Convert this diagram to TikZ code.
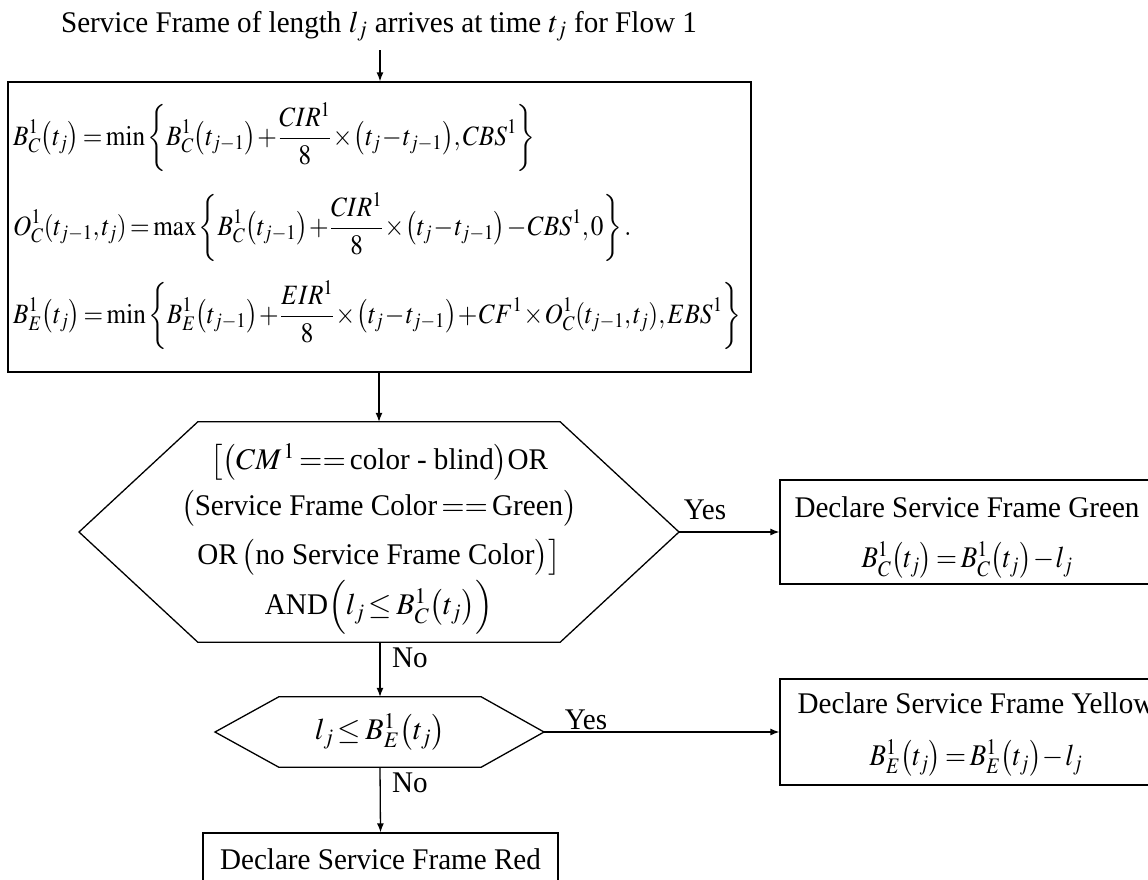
\documentclass[tikz,border=0pt]{standalone}
\usepackage{amsmath}
\usepackage{graphicx}
\usepackage{mathptmx}
\usepackage{fontspec}
\setmainfont{Liberation Serif}[FakeStretch=0.97]
\usetikzlibrary{arrows.meta}
\thickmuskip=2.5mu
\medmuskip=1mu
\thinmuskip=1.5mu
\newcommand{\narrowmath}[1]{\scalebox{0.9}[1]{#1}}
\tikzset{
  every node/.style={font=\fontsize{30}{36}\selectfont, inner sep=0pt},
  mathrow/.style={anchor=west, font=\fontsize{28}{33}\selectfont},
  box/.style={draw, line width=1.3pt},
  conn/.style={-{Latex[length=9pt,width=7pt]}, line width=1.3pt}
}
\begin{document}
\begin{tikzpicture}[x=1pt,y=-1pt]
\useasboundingbox (0,0) rectangle (1148,879);
\fill[white] (0,0) rectangle (1148,879);

% title
\node[anchor=base] (title) at (379,32) {Service Frame of length $l_j$ arrives at time $t_j$ for Flow 1};
\coordinate (a0) at (380,50);

% equation box
\node[box, minimum width=743pt, minimum height=290pt] (eqbox) at (379.5,227) {};
\node[mathrow] (r1) at (13,137) {\narrowmath{$\displaystyle B_C^1\bigl(t_j\bigr)=\min\left\{B_C^1\bigl(t_{j-1}\bigr)+\frac{CIR^1}{8}\times\bigl(t_j-t_{j-1}\bigr),CBS^1\right\}$}};
\node[mathrow] (r2) at (13,227) {\narrowmath{$\displaystyle O_C^1(t_{j-1},t_j)=\max\left\{B_C^1\bigl(t_{j-1}\bigr)+\frac{CIR^1}{8}\times\bigl(t_j-t_{j-1}\bigr)-CBS^1,0\right\}.$}};
\node[mathrow] (r3) at (13,315) {\narrowmath{$\displaystyle B_E^1\bigl(t_j\bigr)=\min\left\{B_E^1\bigl(t_{j-1}\bigr)+\frac{EIR^1}{8}\times\bigl(t_j-t_{j-1}\bigr)+CF^1\times O_C^1(t_{j-1},t_j),EBS^1\right\}$}};

% first decision
\node[minimum width=362pt, minimum height=220pt] (h1) at (379,532) {};
\coordinate (h1l) at (79,532);
\coordinate (h1r) at (679,532);
\draw[box] (h1.north west) -- (h1.north east) -- (h1r) -- (h1.south east) -- (h1.south west) -- (h1l) -- cycle;
\node (h1a) at (379,462) {$\bigl[\bigl(CM^{\,1}==\text{color - blind}\bigr)\text{OR}$};
\node (h1b) at (379,508) {$\bigl(\text{Service Frame Color}==\text{Green}\bigr)$};
\node (h1c) at (379,557) {$\text{OR}\;\bigl(\text{no Service Frame Color}\bigr)\bigr]$};
\node (h1d) at (379,607) {$\text{AND}\Bigl(l_j\le B_C^1\bigl(t_j\bigr)\Bigr)$};

% green box
\node[box, minimum width=374pt, minimum height=104pt] (green) at (967,532) {};
\node (g1) at (967,507) {Declare Service Frame Green};
\node (g2) at (967,560) {\narrowmath{$B_C^1\bigl(t_j\bigr)=B_C^1\bigl(t_j\bigr)-l_j$}};

% second decision
\node[minimum width=202pt, minimum height=70pt] (h2) at (380,732) {};
\coordinate (h2l) at (215,732);
\coordinate (h2r) at (544,732);
\draw[box] (h2.north west) -- (h2.north east) -- (h2r) -- (h2.south east) -- (h2.south west) -- (h2l) -- cycle;
\node (h2t) at (380,732) {$l_j\le B_E^1\bigl(t_j\bigr)$};

% yellow box
\node[box, minimum width=392pt, minimum height=106pt] (yellow) at (976,732) {};
\node (y1) at (976,703) {Declare Service Frame Yellow};
\node (y2) at (976,758) {\narrowmath{$B_E^1\bigl(t_j\bigr)=B_E^1\bigl(t_j\bigr)-l_j$}};

% red box
\node[box, minimum width=355pt, minimum height=52pt] (red) at (380.5,859) {Declare Service Frame Red};

% connectors
\draw[conn] (a0) -- (eqbox.north -| a0);
\draw[conn] (eqbox.south -| h1.north) -- (h1.north);
\draw[conn] (h1r) -- (green.west);
\draw[conn] (h1.south -| h2.north) -- (h2.north);
\draw[conn] (h2r) -- (yellow.west);
\draw[conn] (h2.south) -- (red.north);

% labels
\node (yes1) at (705,510) {Yes};
\node (no1) at (410,658) {No};
\node (yes2) at (586,720) {Yes};
\node (no2) at (410,783) {No};
\end{tikzpicture}
\end{document}
